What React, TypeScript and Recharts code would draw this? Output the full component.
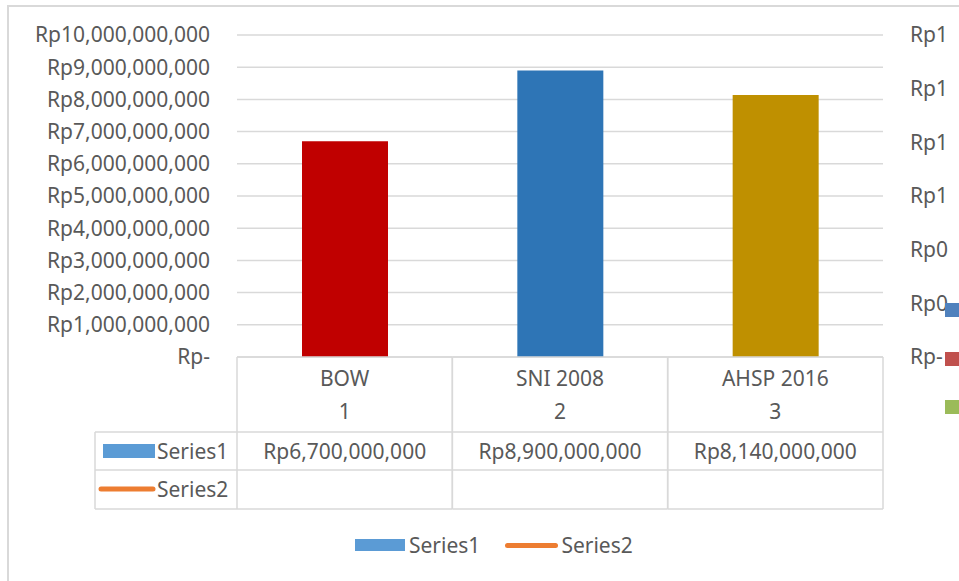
import React from "react";
import {
  Bar,
  CartesianGrid,
  Cell,
  ComposedChart,
  Legend,
  Line,
  XAxis,
  YAxis,
} from "recharts";

const categories = ["BOW", "SNI 2008", "AHSP 2016"];
const categoryIndex = ["1", "2", "3"];
const series1 = [6700000000, 8900000000, 8140000000];
const series2: (number | null)[] = [null, null, null];
const barColors = ["#C00000", "#2E75B6", "#BF9000"];
const leftTicks = [
  0, 1000000000, 2000000000, 3000000000, 4000000000, 5000000000, 6000000000,
  7000000000, 8000000000, 9000000000, 10000000000,
];
const rightTicks = [0, 0.2, 0.4, 0.6, 0.8, 1, 1.2];
const sideKeyColors = ["#4F81BD", "#C0504D", "#9BBB59"];

const W = 959;
const H = 581;
const LEFT_AXIS_W = 237;
const RIGHT_AXIS_W = 76;
const TOP = 35;
const LEGEND_H = 72;
const TABLE_H = 152;
const PLOT_BOTTOM = H - LEGEND_H - TABLE_H;
const COL_W = (W - LEFT_AXIS_W - RIGHT_AXIS_W) / categories.length;

const FONT = "'Noto Sans', sans-serif";
const TEXT = "#595959";
const LINE = "#D9D9D9";
const FS = 21;

const rows = categories.map((name, i) => ({
  name,
  series1: series1[i],
  series2: series2[i],
}));

function rupiah(v: number): string {
  if (v === 0) return "Rp-";
  return "Rp" + Math.round(v).toLocaleString("en-US");
}

function TableTick(props: any) {
  const { x, payload } = props;
  const i: number = payload.index;
  const y0 = PLOT_BOTTOM;
  const yHead = y0 + 75;
  const yRow = y0 + 113;
  const yEnd = y0 + TABLE_H;
  const l = x - COL_W / 2;
  const r = x + COL_W / 2;
  const ln = { stroke: LINE, strokeWidth: 1.5 };
  const txt = {
    fill: TEXT,
    fontSize: FS,
    fontFamily: FONT,
    dominantBaseline: "central" as const,
  };
  return (
    <g>
      <line x1={l} y1={y0} x2={r} y2={y0} {...ln} />
      <line x1={l} y1={y0} x2={l} y2={yEnd} {...ln} />
      <line x1={r} y1={y0} x2={r} y2={yEnd} {...ln} />
      <line x1={l} y1={yHead} x2={r} y2={yHead} {...ln} />
      <line x1={l} y1={yRow} x2={r} y2={yRow} {...ln} />
      <line x1={l} y1={yEnd} x2={r} y2={yEnd} {...ln} />
      <text x={x} y={y0 + 21} textAnchor="middle" {...txt}>
        {categories[i]}
      </text>
      <text x={x} y={y0 + 54} textAnchor="middle" {...txt}>
        {categoryIndex[i]}
      </text>
      <text x={x} y={y0 + 94} textAnchor="middle" {...txt}>
        {rupiah(series1[i])}
      </text>
      <text x={x} y={y0 + 132} textAnchor="middle" {...txt}>
        {series2[i] == null ? "" : rupiah(series2[i] as number)}
      </text>
      {i === 0 ? (
        <g>
          <line x1={95} y1={yHead} x2={l} y2={yHead} {...ln} />
          <line x1={95} y1={yRow} x2={l} y2={yRow} {...ln} />
          <line x1={95} y1={yEnd} x2={l} y2={yEnd} {...ln} />
          <line x1={95} y1={yHead} x2={95} y2={yEnd} {...ln} />
          <rect x={103} y={y0 + 87} width={52} height={14} fill="#5B9BD5" />
          <text x={157} y={y0 + 94} {...txt}>
            Series1
          </text>
          <line
            x1={101}
            y1={y0 + 132}
            x2={153}
            y2={y0 + 132}
            stroke="#ED7D31"
            strokeWidth={5}
            strokeLinecap="round"
          />
          <text x={157} y={y0 + 132} {...txt}>
            Series2
          </text>
        </g>
      ) : null}
    </g>
  );
}

function BottomLegend(props: any) {
  const items = props.payload || [];
  return (
    <div
      style={{
        height: LEGEND_H,
        display: "flex",
        alignItems: "center",
        paddingLeft: 355,
        fontFamily: FONT,
        fontSize: FS,
        color: TEXT,
      }}
    >
      {items.map((it: any) => (
        <div
          key={it.value}
          style={{ display: "flex", alignItems: "center", marginRight: 25 }}
        >
          {it.type === "line" ? (
            <div
              style={{
                width: 53,
                height: 5,
                borderRadius: 3,
                background: it.color,
                marginRight: 3,
              }}
            />
          ) : (
            <div
              style={{
                width: 50,
                height: 12,
                background: it.color,
                marginRight: 4,
              }}
            />
          )}
          <span>{it.value}</span>
        </div>
      ))}
    </div>
  );
}

export default function App() {
  return (
    <div
      style={{
        position: "absolute",
        left: 0,
        top: 0,
        width: W,
        height: H,
        overflow: "hidden",
        background: "#fff",
      }}
    >
      <div
        style={{
          position: "absolute",
          left: 7,
          top: 5,
          width: 1100,
          height: 800,
          border: `2px solid ${LINE}`,
        }}
      />
      <ComposedChart
        width={W}
        height={H}
        data={rows}
        margin={{ top: TOP, right: 0, bottom: LEGEND_H, left: 0 }}
        barGap={0}
      >
        <CartesianGrid
          yAxisId="left"
          vertical={false}
          stroke={LINE}
          strokeWidth={1.5}
        />
        <XAxis
          dataKey="name"
          height={TABLE_H}
          axisLine={false}
          tickLine={false}
          tickSize={0}
          tickMargin={0}
          interval={0}
          tick={<TableTick />}
        />
        <YAxis
          yAxisId="left"
          orientation="left"
          width={LEFT_AXIS_W}
          domain={[0, 10000000000]}
          ticks={leftTicks}
          tickFormatter={rupiah}
          axisLine={false}
          tickLine={false}
          tickSize={0}
          tickMargin={27}
          tick={{ fill: TEXT, fontSize: FS, fontFamily: FONT }}
        />
        <YAxis
          yAxisId="right"
          orientation="right"
          width={RIGHT_AXIS_W}
          domain={[0, 1.2]}
          ticks={rightTicks}
          allowDataOverflow
          tickFormatter={rupiah}
          axisLine={false}
          tickLine={false}
          tickSize={0}
          tickMargin={27}
          tick={{ fill: TEXT, fontSize: FS, fontFamily: FONT }}
        />
        <Bar
          yAxisId="left"
          dataKey="series1"
          name="Series1"
          fill="#5B9BD5"
          barSize={86}
          isAnimationActive={false}
        >
          {rows.map((r, i) => (
            <Cell key={r.name} fill={barColors[i]} />
          ))}
        </Bar>
        <Line
          yAxisId="right"
          dataKey="series2"
          name="Series2"
          type="monotone"
          stroke="#ED7D31"
          strokeWidth={4}
          dot={false}
          isAnimationActive={false}
        />
        <Legend
          layout="horizontal"
          align="center"
          verticalAlign="middle"
          content={<BottomLegend />}
          wrapperStyle={{ top: H - LEGEND_H, left: 0, width: W, height: LEGEND_H }}
        />
      </ComposedChart>
      {sideKeyColors.map((c, i) => (
        <div
          key={c}
          style={{
            position: "absolute",
            left: 945,
            top: 303 + i * 48.5,
            width: 14,
            height: 14,
            background: c,
          }}
        />
      ))}
    </div>
  );
}
